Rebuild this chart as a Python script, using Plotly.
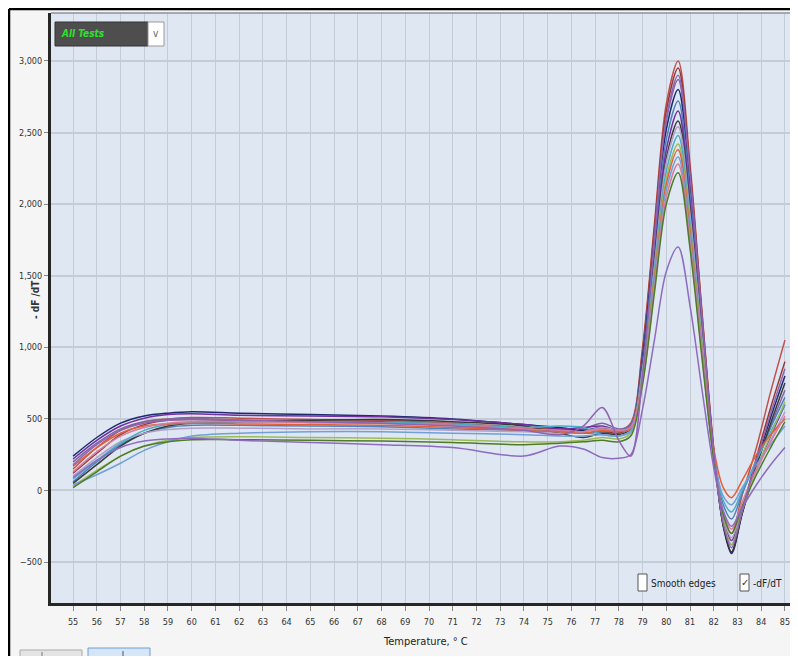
import plotly.graph_objects as go

# ---------------- data ----------------
temps = [55, 56, 57, 58, 59, 60, 62, 65, 68, 71, 74, 75.5, 76.5, 77.3, 78, 78.5,
         79, 79.5, 80, 80.5, 81, 81.5, 82, 82.4, 82.75, 83.2, 83.8, 84.4, 85]

well_01 = [150, 300, 420, 480, 500, 510, 505, 495, 490, 470, 440, 430, 420, 430, 420, 470,
           1000, 1860, 2700, 3000, 2280, 1260, 300, -170, -300, -30, 300, 690, 1050]
well_02 = [120, 260, 390, 460, 490, 495, 490, 485, 480, 460, 430, 420, 400, 410, 400, 450,
           970, 1830, 2650, 2950, 2240, 1240, 280, -240, -430, -140, 230, 580, 900]
well_03 = [200, 330, 430, 480, 500, 505, 490, 475, 470, 455, 430, 410, 430, 470, 430, 460,
           950, 1780, 2580, 2870, 2180, 1200, 270, -210, -380, -130, 180, 450, 700]
well_04 = [240, 370, 470, 520, 540, 550, 540, 530, 520, 500, 460, 440, 420, 440, 410, 440,
           930, 1740, 2520, 2800, 2130, 1180, 260, -250, -440, -160, 190, 510, 800]
well_05 = [60, 200, 320, 400, 440, 455, 455, 450, 445, 430, 420, 410, 400, 410, 420, 450,
           900, 1690, 2450, 2720, 2070, 1140, 270, -100, -200, -20, 210, 440, 650]
well_06 = [220, 350, 450, 505, 530, 535, 525, 520, 515, 495, 460, 430, 440, 450, 420, 440,
           880, 1640, 2380, 2650, 2010, 1110, 250, -190, -350, -130, 140, 380, 600]
well_07 = [50, 180, 310, 400, 450, 470, 480, 490, 495, 480, 450, 400, 370, 400, 390, 430,
           860, 1600, 2320, 2580, 1960, 1080, 240, -240, -430, -160, 170, 470, 750]
well_08 = [100, 230, 340, 400, 425, 435, 435, 430, 430, 420, 410, 400, 410, 440, 420, 440,
           850, 1570, 2290, 2540, 1930, 1070, 240, -180, -330, -120, 130, 350, 550]
well_09 = [80, 210, 330, 420, 460, 475, 480, 480, 475, 465, 440, 450, 440, 390, 380, 420,
           830, 1540, 2230, 2480, 1880, 1040, 260, -70, -150, 0, 210, 410, 600]
well_10 = [30, 140, 240, 310, 350, 370, 375, 370, 365, 355, 340, 340, 350, 370, 360, 400,
           810, 1500, 2180, 2420, 1840, 1020, 230, -210, -380, -140, 150, 390, 620]
well_11 = [170, 300, 400, 450, 465, 470, 465, 460, 455, 440, 420, 410, 400, 420, 410, 430,
           790, 1480, 2140, 2380, 1810, 1000, 290, 20, -50, 70, 250, 390, 500]
well_12 = [40, 110, 190, 280, 340, 380, 400, 410, 410, 400, 390, 380, 380, 390, 380, 410,
           780, 1450, 2100, 2330, 1770, 980, 240, -40, -100, 20, 180, 320, 450]
well_13 = [130, 270, 380, 440, 470, 480, 480, 475, 470, 455, 430, 420, 410, 430, 420, 440,
           760, 1410, 2050, 2280, 1730, 960, 220, -150, -270, -80, 150, 340, 520]
well_14 = [20, 130, 240, 310, 340, 355, 355, 350, 345, 335, 320, 330, 340, 350, 340, 380,
           740, 1380, 2000, 2220, 1690, 930, 210, -170, -300, -110, 110, 300, 480]
well_15 = [90, 210, 300, 345, 360, 365, 350, 335, 320, 300, 240, 310, 290, 230, 225, 250,
           570, 1050, 1530, 1700, 1290, 710, 160, -140, -250, -120, 40, 180, 300]
well_16 = [180, 320, 420, 470, 490, 495, 490, 480, 470, 450, 420, 390, 450, 580, 350, 240,
           800, 1750, 2600, 2900, 2200, 1220, 270, -230, -400, -140, 210, 540, 850]

wells = [well_01, well_02, well_03, well_04, well_05, well_06, well_07, well_08,
         well_09, well_10, well_11, well_12, well_13, well_14, well_15, well_16]
well_names = ["A1", "A2", "A3", "A4", "B1", "B2", "B3", "B4",
              "C1", "C2", "C3", "C4", "D1", "D2", "D3", "D4"]
well_colors = ["#c0504d", "#953735", "#8064a2", "#1f2a6e", "#4f81bd", "#7030a0",
               "#3a3a3a", "#b1a0c7", "#4bacc6", "#9bbb59", "#e0603a", "#6fa0d8",
               "#d77b9c", "#4f7a28", "#8e6bbf", "#9065b0"]

x_ticks = list(range(55, 86))
y_ticks = [-500, 0, 500, 1000, 1500, 2000, 2500, 3000]

# ---------------- figure ----------------
OFF = 8  # page body margin offset
W, H = 798 - OFF, 657 - OFF - 1
L, R, T, B = 51 - OFF, 793 - OFF, 13 - OFF, 603 - OFF


def pxx(x):
    return (x - OFF - L) / (R - L)


def pxy(y):
    return (B - (y - OFF)) / (B - T)


fig = go.Figure()
for name, vals, col in zip(well_names, wells, well_colors):
    fig.add_trace(go.Scatter(x=temps, y=vals, mode="lines", name=name,
                             line=dict(color=col, width=1.5, shape="spline", smoothing=0.9),
                             hoverinfo="x+y+name"))

font_c = "Liberation Sans Narrow, DejaVu Sans Condensed, Arial Narrow, sans-serif"

shapes = []
# outer black frame (top & left)
shapes.append(dict(type="line", xref="paper", yref="paper", x0=pxx(9), x1=pxx(800),
                   y0=pxy(9), y1=pxy(9), line=dict(color="#000000", width=2.5)))
shapes.append(dict(type="line", xref="paper", yref="paper", x0=pxx(9), x1=pxx(9),
                   y0=pxy(9), y1=pxy(660), line=dict(color="#000000", width=2.5)))
# plot top/right borders
shapes.append(dict(type="line", xref="paper", yref="paper", x0=0, x1=1, y0=1, y1=1,
                   line=dict(color="#8c9199", width=1.5)))
shapes.append(dict(type="line", xref="paper", yref="paper", x0=1, x1=1, y0=0, y1=1,
                   line=dict(color="#b8bdc5", width=1.5)))
# dropdown
shapes.append(dict(type="rect", xref="paper", yref="paper", x0=pxx(55), x1=pxx(148),
                   y0=pxy(46), y1=pxy(22), fillcolor="#4e4e4e", line=dict(color="#333", width=1)))
shapes.append(dict(type="rect", xref="paper", yref="paper", x0=pxx(148), x1=pxx(164),
                   y0=pxy(46), y1=pxy(22), fillcolor="#ffffff", line=dict(color="#999", width=1)))
# checkboxes
shapes.append(dict(type="rect", xref="paper", yref="paper", x0=pxx(638), x1=pxx(647),
                   y0=pxy(591), y1=pxy(574), fillcolor="#ffffff", line=dict(color="#555", width=1)))
shapes.append(dict(type="rect", xref="paper", yref="paper", x0=pxx(740), x1=pxx(749),
                   y0=pxy(591), y1=pxy(574), fillcolor="#ffffff", line=dict(color="#555", width=1)))
# bottom buttons
shapes.append(dict(type="rect", xref="paper", yref="paper", x0=pxx(20), x1=pxx(82),
                   y0=pxy(662), y1=pxy(650), fillcolor="#e4e4e4", line=dict(color="#aaaaaa", width=1)))
shapes.append(dict(type="rect", xref="paper", yref="paper", x0=pxx(88), x1=pxx(150),
                   y0=pxy(662), y1=pxy(648), fillcolor="#d4e6f7", line=dict(color="#6c9fd4", width=1)))
shapes.append(dict(type="line", xref="paper", yref="paper", x0=pxx(42), x1=pxx(42),
                   y0=pxy(657), y1=pxy(652), line=dict(color="#777", width=1)))
shapes.append(dict(type="line", xref="paper", yref="paper", x0=pxx(123), x1=pxx(123),
                   y0=pxy(657), y1=pxy(651), line=dict(color="#555", width=1)))

annotations = [
    dict(xref="paper", yref="paper", x=pxx(59), y=pxy(34), text="<i><b>All Tests</b></i>",
         showarrow=False, xanchor="left", yanchor="middle",
         font=dict(family=font_c, size=10, color="#2fe02f")),
    dict(xref="paper", yref="paper", x=pxx(156), y=pxy(33), text="v",
         showarrow=False, xanchor="center", yanchor="middle",
         font=dict(family=font_c, size=10, color="#666")),
    dict(xref="paper", yref="paper", x=pxx(649), y=pxy(583), text="Smooth edges",
         showarrow=False, xanchor="left", yanchor="middle",
         font=dict(family=font_c, size=10, color="#222")),
    dict(xref="paper", yref="paper", x=pxx(744.5), y=pxy(582), text="✓",
         showarrow=False, xanchor="center", yanchor="middle",
         font=dict(family="DejaVu Sans", size=10, color="#333")),
    dict(xref="paper", yref="paper", x=pxx(751), y=pxy(583), text="-dF/dT",
         showarrow=False, xanchor="left", yanchor="middle",
         font=dict(family=font_c, size=10, color="#222")),
    dict(xref="paper", yref="paper", x=pxx(425), y=pxy(641), text="Temperature, ° C",
         showarrow=False, xanchor="center", yanchor="middle",
         font=dict(family=font_c, size=11, color="#222")),
    dict(xref="paper", yref="paper", x=pxx(35), y=pxy(300), text="<b>- dF /dT</b>",
         textangle=-90, showarrow=False, xanchor="center", yanchor="middle",
         font=dict(family=font_c, size=10, color="#333")),
]

fig.update_layout(
    width=W, height=H,
    margin=dict(l=L, r=W - R, t=T, b=H - B),
    paper_bgcolor="#f5f5f5",
    plot_bgcolor="#dfe7f2",
    showlegend=False,
    shapes=shapes,
    annotations=annotations,
    xaxis=dict(range=[54.07, 85.34], tickvals=x_ticks, ticktext=[str(v) for v in x_ticks],
               showgrid=True, gridcolor="#c4ccd8", gridwidth=1, zeroline=False,
               showline=True, linecolor="#262626", linewidth=3,
               ticks="outside", ticklen=5, tickcolor="#888", tickwidth=1,
               tickfont=dict(family=font_c, size=9, color="#333"), ticklabelstandoff=3),
    yaxis=dict(range=[-786, 3335], tickvals=y_ticks, tickformat=",d",
               showgrid=True, gridcolor="#c4ccd8", gridwidth=1.5, zeroline=False,
               showline=True, linecolor="#262626", linewidth=3,
               ticks="outside", ticklen=4, tickcolor="#888", tickwidth=1,
               tickfont=dict(family=font_c, size=9, color="#333")),
)

fig.write_html("out.html")
